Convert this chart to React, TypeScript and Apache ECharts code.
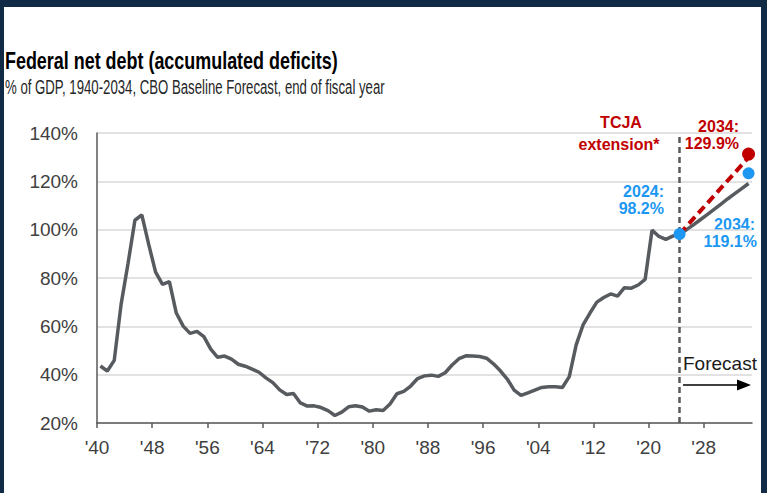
import { useEffect, useRef } from "react";
import * as echarts from "echarts";

// ---- data ----
const START_YEAR = 1940;
// Federal net debt, % of GDP, 1940-2024 (actuals)
const historical = [
  43.6, 41.5, 45.9, 69.2, 86.0, 103.9, 106.1, 93.9, 82.4, 77.4,
  78.5, 65.5, 60.1, 57.1, 57.9, 55.7, 50.6, 47.2, 47.7, 46.4,
  44.3, 43.5, 42.3, 41.0, 38.7, 36.7, 33.7, 31.8, 32.2, 28.3,
  27.0, 27.1, 26.4, 25.1, 23.1, 24.5, 26.7, 27.1, 26.6, 24.9,
  25.5, 25.2, 27.9, 32.1, 33.1, 35.3, 38.4, 39.5, 39.8, 39.3,
  40.8, 44.0, 46.6, 47.8, 47.7, 47.5, 46.8, 44.5, 41.6, 38.2,
  33.6, 31.4, 32.5, 33.6, 34.7, 35.0, 35.0, 34.7, 39.2, 52.3,
  60.6, 65.5, 70.0, 71.9, 73.4, 72.5, 76.0, 75.8, 77.1, 79.4,
  99.8, 97.2, 96.0, 97.3, 98.2,
];
// CBO baseline forecast 2025-2034
const forecastYears = [2025, 2026, 2027, 2028, 2029, 2030, 2031, 2032, 2033, 2034];
const forecast = [100.0, 102.0, 104.1, 106.2, 108.4, 110.6, 112.8, 114.9, 117.0, 119.1];
// TCJA extension scenario
const tcjaYears = [2024, 2034];
const tcjaValues = [98.2, 129.9];
// highlighted markers
const blueMarkerYears = [2024, 2034];
const blueMarkerValues = [98.2, 123.3];
const redMarkerYears = [2034];
const redMarkerValues = [131.3];
const forecastStartYear = 2024;
// axes
const xTickYears = [1940, 1948, 1956, 1964, 1972, 1980, 1988, 1996, 2004, 2012, 2020, 2028];
const yMin = 20;
const yMax = 140;
const yStep = 20;
const xMin = 1940;
const xMax = 2035;
// each yearly point sits in the middle of its year slot
const SLOT = 0.5;

const FONT = "'Liberation Sans', Arial, sans-serif";
const RED = "#c00000";
const BLUE = "#1c97f2";
const GRAY = "#575b5f";

export default function App() {
  const ref = useRef<HTMLDivElement>(null);
  useEffect(() => {
    if (!ref.current) return;
    const chart = echarts.init(ref.current, null, { renderer: "svg" });

    const mainData: [number, number][] = [];
    historical.forEach((v, i) => mainData.push([START_YEAR + i + SLOT, v]));
    forecast.forEach((v, i) => mainData.push([forecastYears[i] + SLOT, v]));
    const tcjaData = tcjaYears.map((y, i) => [y + SLOT, tcjaValues[i]]);
    const blueData = blueMarkerYears.map((y, i) => [y + SLOT, blueMarkerValues[i]]);
    const redData = redMarkerYears.map((y, i) => [y + SLOT, redMarkerValues[i]]);

    const annot = (text: string, x: number, y: number, color: string, align: string, size = 16, weight = "bold") => ({
      type: "text",
      x,
      y,
      silent: true,
      style: {
        text,
        fill: color,
        font: `${weight} ${size}px ${FONT}`,
        align,
        verticalAlign: "middle",
      },
    });

    chart.setOption({
      animation: false,
      backgroundColor: "#ffffff",
      grid: { left: 97, right: 15, top: 133, bottom: 70, containLabel: false },
      xAxis: {
        type: "value",
        min: xMin,
        max: xMax,
        axisLine: { show: true, lineStyle: { color: "#595959", width: 1.5 } },
        axisTick: {
          show: true,
          length: 5,
          customValues: xTickYears,
          lineStyle: { color: "#595959", width: 1.5 },
        },
        axisLabel: {
          customValues: xTickYears,
          formatter: (v: number) => "'" + String(Math.round(v) % 100).padStart(2, "0"),
          color: "#404040",
          fontSize: 19,
          fontFamily: FONT,
          margin: 15,
        },
        splitLine: { show: false },
      },
      yAxis: {
        type: "value",
        min: yMin,
        max: yMax,
        interval: yStep,
        axisLine: { show: true, lineStyle: { color: "#595959", width: 1.5 } },
        axisTick: { show: false },
        axisLabel: {
          formatter: "{value}%",
          color: "#404040",
          fontSize: 19,
          fontFamily: FONT,
          margin: 19,
        },
        splitLine: { show: true, lineStyle: { color: "#d9d9d9", width: 1.5 } },
      },
      series: [
        {
          type: "line",
          data: mainData,
          showSymbol: false,
          symbol: "none",
          lineStyle: { color: GRAY, width: 3.5 },
          z: 2,
          markLine: {
            silent: true,
            symbol: ["none", "none"],
            label: { show: false },
            lineStyle: { color: "#595959", width: 2.5, type: [6, 4] },
            data: [{ xAxis: forecastStartYear + SLOT }],
          },
        },
        {
          type: "line",
          data: tcjaData,
          showSymbol: false,
          symbol: "none",
          lineStyle: { color: RED, width: 4, type: [9, 5] },
          z: 3,
        },
        {
          type: "scatter",
          data: redData,
          symbolSize: 13,
          itemStyle: { color: RED, opacity: 1 },
          z: 4,
        },
        {
          type: "scatter",
          data: blueData,
          symbolSize: 12,
          itemStyle: { color: BLUE, opacity: 1 },
          z: 5,
        },
      ],
      graphic: [
        // frame
        { type: "rect", shape: { x: 0, y: 0, width: 767, height: 7 }, style: { fill: "#112a46" }, silent: true },
        { type: "rect", shape: { x: 0, y: 0, width: 4, height: 493 }, style: { fill: "#112a46" }, silent: true },
        { type: "rect", shape: { x: 761, y: 0, width: 6, height: 493 }, style: { fill: "#112a46" }, silent: true },
        // titles
        {
          type: "text",
          x: 5,
          y: 61,
          scaleX: 0.78,
          silent: true,
          style: {
            text: "Federal net debt (accumulated deficits)",
            fill: "#000000",
            font: `bold 23px ${FONT}`,
            align: "left",
            verticalAlign: "middle",
          },
        },
        {
          type: "text",
          x: 5,
          y: 87.5,
          scaleX: 0.66,
          silent: true,
          style: {
            text: "% of GDP, 1940-2034, CBO Baseline Forecast, end of fiscal year",
            fill: "#262626",
            font: `20px ${FONT}`,
            align: "left",
            verticalAlign: "middle",
          },
        },
        // annotations
        annot("TCJA", 621, 122, RED, "center"),
        annot("extension*", 619, 144, RED, "center"),
        annot("2034:", 739, 126, RED, "right"),
        annot("129.9%", 739, 143.5, RED, "right"),
        annot("2024:", 664, 191, BLUE, "right"),
        annot("98.2%", 664, 208.5, BLUE, "right"),
        annot("2034:", 755, 224, BLUE, "right"),
        annot("119.1%", 757, 241.5, BLUE, "right"),
        annot("Forecast", 683, 363.5, "#1a1a1a", "left", 19, "normal"),
        {
          type: "line",
          silent: true,
          shape: { x1: 683, y1: 385, x2: 740, y2: 385 },
          style: { stroke: "#000000", lineWidth: 1.5 },
        },
        {
          type: "polygon",
          silent: true,
          shape: { points: [[737, 379.5], [751, 385], [737, 390.5]] },
          style: { fill: "#000000" },
        },
      ],
    });
    return () => chart.dispose();
  }, []);
  return (
    <div
      ref={ref}
      style={{ position: "fixed", left: 0, top: 0, width: 767, height: 493 }}
    />
  );
}
